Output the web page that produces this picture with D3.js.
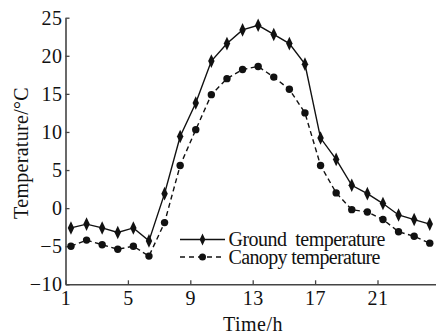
<!DOCTYPE html>
<html><head><meta charset="utf-8">
<script src="https://cdn.jsdelivr.net/npm/d3@7"></script>
<style>body{margin:0;background:#fff}svg{display:block}text{font-family:"Liberation Serif","Times New Roman",serif;fill:#111}</style>
</head><body><svg id="c" width="436" height="336"></svg>
<script>
const hours = [1.35,2.35,3.35,4.35,5.35,6.35,7.35,8.35,9.35,10.35,11.35,12.35,13.35,14.35,15.35,16.35,17.35,18.35,19.35,20.35,21.35,22.35,23.35,24.35];
const ground = [-2.6,-2.1,-2.6,-3.2,-2.6,-4.3,1.9,9.4,13.8,19.3,21.6,23.4,24.0,22.8,21.6,18.9,9.2,6.4,3.0,1.9,0.6,-0.9,-1.5,-2.1];
const canopy = [-5.0,-4.2,-4.8,-5.4,-5.0,-6.3,-1.9,5.6,10.3,14.9,17.0,18.2,18.6,17.2,15.6,12.5,5.6,2.0,-0.2,-0.5,-1.5,-3.1,-3.7,-4.6];
const xTicks = [1,5,9,13,17,21];
const yTicks = [-10,-5,0,5,10,15,20,25];
const seriesNames = ["Ground  temperature","Canopy temperature"];

const svg = d3.select("#c");
const x = d3.scaleLinear().domain([1,25]).range([65.5,439.9]);
const y = d3.scaleLinear().domain([-10,25]).range([284.3,17.7]);

// axes
const xa = svg.append("g").attr("transform","translate(0,284.3)")
  .call(d3.axisBottom(x).tickValues(xTicks).tickSizeInner(-4).tickSizeOuter(0).tickPadding(7).tickFormat(d3.format("d")));
const ya = svg.append("g").attr("transform","translate(65.5,0)")
  .call(d3.axisLeft(y).tickValues(yTicks).tickSizeInner(-4).tickSizeOuter(0).tickPadding(3)
    .tickFormat(d => d < 0 ? "\u2212" + Math.abs(d) : d));
[xa,ya].forEach(a=>{
  a.select(".domain").attr("stroke","#444").attr("stroke-width",1.6);
  a.selectAll(".tick line").attr("stroke","#444").attr("stroke-width",1.3);
  a.selectAll(".tick text").attr("font-size",20).attr("font-family","Liberation Serif").attr("fill","#111").attr("letter-spacing",0.5);
});
xa.selectAll(".tick text").attr("dy","0.68em");
ya.selectAll(".tick text").attr("dy","0.33em");

// axis titles
svg.append("text").attr("x",253).attr("y",331).attr("text-anchor","middle").attr("font-size",20).attr("letter-spacing",0.5).text("Time/h");
svg.append("text").attr("transform","translate(28,153) rotate(-90)").attr("text-anchor","middle").attr("font-size",20).attr("letter-spacing",0.3).text("Temperature/\u00B0C");

const line = d3.line().x((d,i)=>x(hours[i])).y(d=>y(d));
const diamond = d3.symbol().type(d3.symbolDiamond).size(44);

// canopy
svg.append("path").datum(canopy).attr("d",line).attr("fill","none").attr("stroke","#111").attr("stroke-width",1.4).attr("stroke-dasharray","5,3.5");
svg.selectAll("circle.c").data(canopy).join("circle").attr("class","c")
  .attr("cx",(d,i)=>x(hours[i])).attr("cy",d=>y(d)).attr("r",3.7).attr("fill","#111");
// ground
svg.append("path").datum(ground).attr("d",line).attr("fill","none").attr("stroke","#111").attr("stroke-width",1.4);
svg.selectAll("path.g").data(ground).join("path").attr("class","g")
  .attr("transform",(d,i)=>`translate(${x(hours[i])},${y(d)}) scale(0.9,1.1)`).attr("d",diamond).attr("fill","#111");

// legend
const lg = svg.append("g");
const rows = [239.5,257];
const widths = [157,152];
lg.append("line").attr("x1",180).attr("x2",225).attr("y1",rows[0]).attr("y2",rows[0]).attr("stroke","#111").attr("stroke-width",1.4);
lg.append("path").attr("transform",`translate(202.5,${rows[0]}) scale(0.9,1.1)`).attr("d",d3.symbol().type(d3.symbolDiamond).size(34)).attr("fill","#111");
lg.append("line").attr("x1",180).attr("x2",225).attr("y1",rows[1]).attr("y2",rows[1]).attr("stroke","#111").attr("stroke-width",1.4).attr("stroke-dasharray","5,4");
lg.append("circle").attr("cx",202.5).attr("cy",rows[1]).attr("r",3.5).attr("fill","#111");
seriesNames.forEach((n,i)=>{
  lg.append("text").attr("x",228.5).attr("y",rows[i]).attr("dy","0.33em").attr("font-size",20)
    .attr("textLength",widths[i]).attr("lengthAdjust","spacing").style("white-space","pre").text(n);
});
</script></body></html>
